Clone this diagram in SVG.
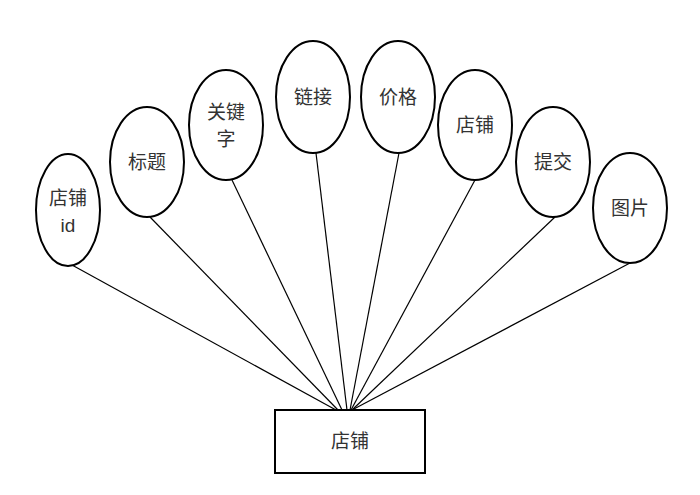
<svg xmlns="http://www.w3.org/2000/svg" width="700" height="495" viewBox="0 0 700 495">
<style>
.n{fill:#fff;stroke:#000;stroke-width:2}
.t{font-family:"Liberation Sans","Noto Sans CJK SC",sans-serif;font-size:19px;fill:#333;text-anchor:middle}
.c line{stroke:#000;stroke-width:1.2}
</style>
<rect width="700" height="495" fill="#fff"/>
<g class="c" id="connectors">
<line x1="72" y1="265" x2="336" y2="410"/>
<line x1="150" y1="217" x2="338" y2="410"/>
<line x1="232" y1="180" x2="342" y2="410"/>
<line x1="316" y1="153" x2="347" y2="410"/>
<line x1="399" y1="153" x2="350" y2="410"/>
<line x1="475" y1="180" x2="351" y2="410"/>
<line x1="555" y1="217" x2="352" y2="410"/>
<line x1="630" y1="263" x2="352" y2="410"/>
</g>
<g id="n1"><ellipse class="n" cx="68" cy="210" rx="32" ry="56"/><text class="t" x="68" y="205">店铺</text><text class="t" x="68" y="232">id</text></g>
<g id="n2"><ellipse class="n" cx="147" cy="162" rx="37" ry="55"/><text class="t" x="147" y="169">标题</text></g>
<g id="n3"><ellipse class="n" cx="226" cy="125" rx="37" ry="55"/><text class="t" x="226" y="119">关键</text><text class="t" x="226" y="146">字</text></g>
<g id="n4"><ellipse class="n" cx="313" cy="97" rx="37" ry="56"/><text class="t" x="313" y="104">链接</text></g>
<g id="n5"><ellipse class="n" cx="398" cy="97" rx="37" ry="56"/><text class="t" x="398" y="104">价格</text></g>
<g id="n6"><ellipse class="n" cx="475" cy="125" rx="37" ry="55"/><text class="t" x="475" y="132">店铺</text></g>
<g id="n7"><ellipse class="n" cx="553" cy="162" rx="37" ry="55"/><text class="t" x="553" y="169">提交</text></g>
<g id="n8"><ellipse class="n" cx="630" cy="208" rx="37" ry="55"/><text class="t" x="630" y="215">图片</text></g>
<g id="main"><rect class="n" x="275" y="410" width="150" height="63"/><text class="t" x="350" y="448">店铺</text></g>
</svg>
